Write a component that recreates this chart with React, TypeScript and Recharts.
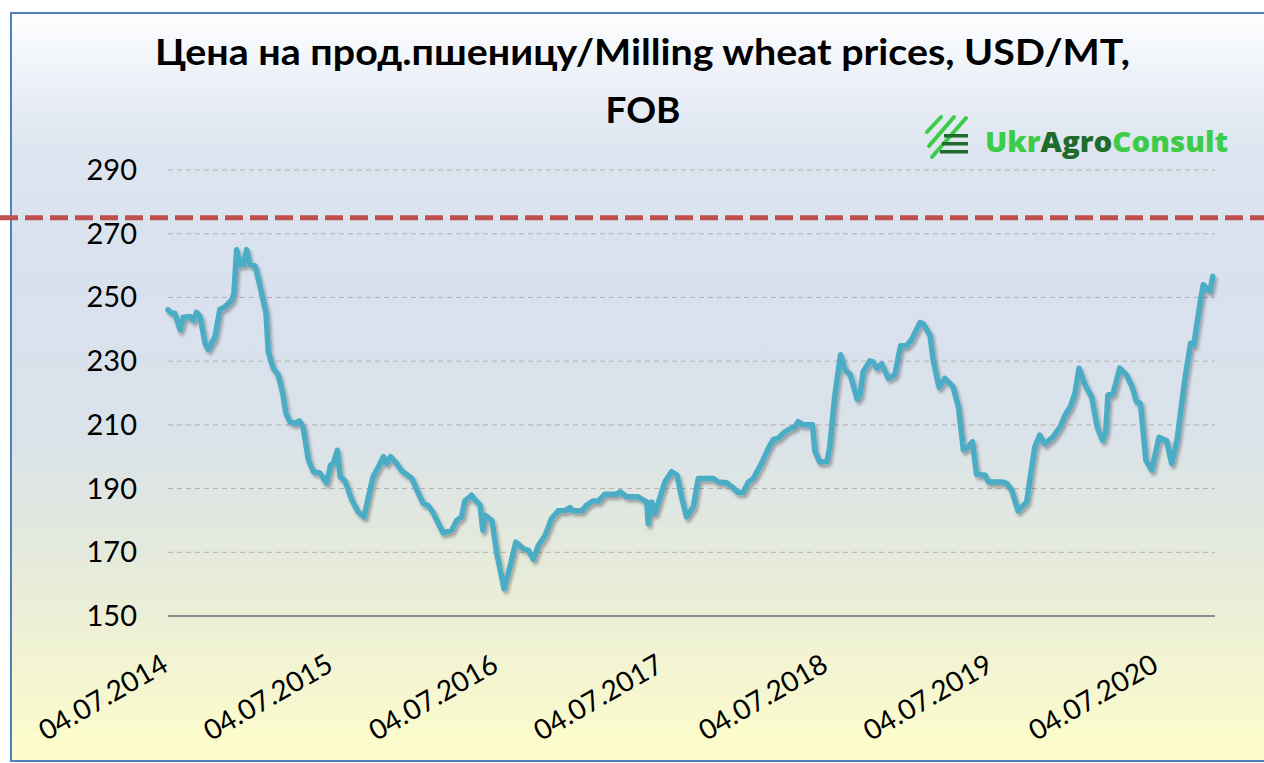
import { CartesianGrid, Line, LineChart, ReferenceLine, XAxis, YAxis } from "recharts";

const DATES = [
  "2014-07-04", "2014-07-12", "2014-07-19", "2014-07-31", "2014-08-07", "2014-08-22", "2014-08-29",
  "2014-09-05", "2014-09-13", "2014-09-24", "2014-10-01", "2014-10-16", "2014-10-27", "2014-11-07",
  "2014-11-22", "2014-11-27", "2014-12-03", "2014-12-10", "2014-12-18", "2014-12-25", "2015-01-01",
  "2015-01-13", "2015-01-24", "2015-02-06", "2015-02-11", "2015-02-22", "2015-03-05", "2015-03-15",
  "2015-03-22", "2015-03-31", "2015-04-11", "2015-04-21", "2015-04-29", "2015-05-11", "2015-05-22",
  "2015-06-05", "2015-06-20", "2015-06-29", "2015-07-05", "2015-07-14", "2015-07-20", "2015-07-31",
  "2015-08-15", "2015-08-29", "2015-09-11", "2015-09-20", "2015-10-01", "2015-10-13", "2015-10-24",
  "2015-10-31", "2015-11-09", "2015-11-22", "2015-12-03", "2015-12-26", "2016-01-06", "2016-01-20",
  "2016-01-31", "2016-02-11", "2016-02-22", "2016-03-04", "2016-03-23", "2016-04-03", "2016-04-14",
  "2016-04-21", "2016-05-06", "2016-05-14", "2016-05-25", "2016-05-31", "2016-06-05", "2016-06-20",
  "2016-07-01", "2016-07-17", "2016-07-30", "2016-08-12", "2016-08-29", "2016-09-09", "2016-09-20",
  "2016-10-01", "2016-10-16", "2016-10-30", "2016-11-14", "2016-11-29", "2016-12-10", "2016-12-17",
  "2017-01-05", "2017-01-16", "2017-01-30", "2017-02-11", "2017-02-25", "2017-03-23", "2017-03-31",
  "2017-04-14", "2017-05-10", "2017-05-21", "2017-05-29", "2017-06-01", "2017-06-09", "2017-06-16",
  "2017-06-23", "2017-07-08", "2017-07-23", "2017-08-04", "2017-08-14", "2017-08-25", "2017-09-09",
  "2017-09-20", "2017-10-23", "2017-11-03", "2017-11-22", "2017-12-06", "2017-12-17", "2017-12-28",
  "2018-01-09", "2018-01-20", "2018-02-07", "2018-02-22", "2018-03-05", "2018-03-16", "2018-03-31",
  "2018-04-15", "2018-04-22", "2018-04-29", "2018-05-10", "2018-05-31", "2018-06-05", "2018-06-16",
  "2018-07-02", "2018-07-08", "2018-07-19", "2018-08-01", "2018-08-11", "2018-08-22", "2018-09-07",
  "2018-09-13", "2018-09-20", "2018-10-05", "2018-10-12", "2018-10-20", "2018-10-31", "2018-11-15",
  "2018-11-29", "2018-12-12", "2018-12-25", "2019-01-05", "2019-01-24", "2019-01-31", "2019-02-15",
  "2019-02-22", "2019-03-07", "2019-03-20", "2019-04-07", "2019-04-19", "2019-04-30", "2019-05-11",
  "2019-05-20", "2019-05-29", "2019-06-17", "2019-06-24", "2019-07-24", "2019-08-04", "2019-08-15",
  "2019-08-29", "2019-09-17", "2019-09-24", "2019-10-05", "2019-10-16", "2019-10-27", "2019-11-15",
  "2019-11-30", "2019-12-11", "2019-12-22", "2020-01-02", "2020-01-11", "2020-01-20", "2020-01-28",
  "2020-02-08", "2020-02-20", "2020-03-03", "2020-03-10", "2020-03-15", "2020-03-26", "2020-04-10",
  "2020-04-25", "2020-05-08", "2020-05-17", "2020-05-26", "2020-06-07", "2020-06-20", "2020-07-06",
  "2020-07-23", "2020-08-03", "2020-08-15", "2020-09-01", "2020-09-14", "2020-09-21", "2020-10-06",
  "2020-10-12", "2020-10-27", "2020-11-02",
];

const PRICES = [
  246.1, 245.1, 245, 239.8, 243.8, 244, 242.7,
  245.3, 244, 235.6, 233.7, 237.7, 246.3, 247,
  249.2, 251.3, 265, 260.3, 260.3, 265, 260.3,
  259.9, 253.4, 245.1, 233, 227.8, 225.7, 219.9,
  213.6, 211, 210.5, 211.2, 209.4, 198.9, 195.3,
  194.9, 191.8, 197.4, 197.9, 202, 193.7, 192.4,
  186.4, 182.7, 181.1, 186.9, 193.7, 196.8, 200,
  197.9, 200, 197.9, 195.6, 193.2, 189.5, 185.3,
  184.7, 182.4, 179.2, 176.1, 176.9, 180, 181.1,
  186.1, 187.9, 186.4, 184.8, 176.9, 181.6, 180,
  169.6, 158.6, 165.4, 173.2, 171.1, 170.6, 167.8,
  172.2, 175.3, 180.6, 183, 183, 184, 183,
  183, 184.8, 186.1, 186.1, 188.2, 188.2, 189,
  187.4, 187.4, 186.4, 185.8, 179, 185.8, 182.2,
  185.3, 192.1, 195.3, 194.2, 187.4, 181.1, 184.3,
  193.2, 193.2, 192.1, 191.8, 190.3, 188.8, 188.8,
  192.1, 193.2, 197.9, 202.6, 205.4, 205.8, 207.8,
  209.1, 209.3, 211, 210, 210, 201.8, 198.3,
  198.5, 203.1, 218.8, 232, 227.2, 226, 218,
  219.4, 226.7, 230.1, 229.8, 227.8, 229.1, 224.6,
  225.7, 234.8, 234.8, 236.7, 242.1, 241.7, 238.2,
  230.4, 221.8, 224.6, 222, 215.7, 202.1, 203.1,
  204.7, 194.5, 194.2, 192.1, 192.1, 191.6, 189.5,
  183, 185.8, 192.6, 203.1, 206.8, 204, 206.3,
  209.4, 213.1, 215.5, 219.9, 227.8, 224.1, 221.5,
  218.8, 209.4, 205.2, 207.8, 219.4, 219.7, 227.8,
  225.7, 221.8, 217.3, 216.8, 198.9, 195.8, 206.1,
  205, 197.9, 205.2, 224.1, 235.6, 235.1, 249.2,
  254, 251.9, 256.6,
];

const X_TICKS = [
  "2014-07-04", "2015-07-04", "2016-07-04", "2017-07-04", "2018-07-04", "2019-07-04", "2020-07-04",
];
const X_START = "2014-07-04";
const X_END = "2020-11-07";
const Y_TICKS = [150, 170, 190, 210, 230, 250, 270, 290];
const LIMIT = 275;

const TITLE_1 = "Цена на прод.пшеницу/Milling wheat prices, USD/MT,";
const TITLE_2 = "FOB";

const W = 1264;
const H = 763;
const PLOT_BOTTOM = 616;
const FONT = "Lato, 'Open Sans', sans-serif";

const toTs = (s: string) => Date.parse(s + "T00:00:00Z");

function fmtDate(ts: number) {
  const d = new Date(ts);
  const dd = String(d.getUTCDate()).padStart(2, "0");
  const mm = String(d.getUTCMonth() + 1).padStart(2, "0");
  return `${dd}.${mm}.${d.getUTCFullYear()}`;
}

const data = DATES.map((d, i) => ({ t: toTs(d), price: PRICES[i] }));

function XTick(props: any) {
  const { x, payload } = props;
  const tx = x + 2;
  const ty = PLOT_BOTTOM + 54;
  return (
    <text
      x={tx}
      y={ty}
      transform={`rotate(-30, ${tx}, ${ty})`}
      textAnchor="end"
      fontFamily={FONT}
      fontSize={28}
      fill="#000"
    >
      {fmtDate(payload.value)}
    </text>
  );
}

function YTick(props: any) {
  const { y, payload } = props;
  return (
    <text x={137} y={y} dy={10} textAnchor="end" fontFamily={FONT} fontSize={29} fill="#000">
      {payload.value}
    </text>
  );
}

function LimitLine(props: any) {
  return (
    <line
      x1={0}
      x2={W}
      y1={props.y1}
      y2={props.y1}
      stroke="#c0504d"
      strokeWidth={5}
      strokeDasharray="18 7"
    />
  );
}

export default function App() {
  return (
    <div
      style={{
        position: "absolute",
        left: 0,
        top: 0,
        width: W,
        height: H,
        overflow: "hidden",
        background: "#fff",
      }}
    >
      <div
        style={{
          position: "absolute",
          left: 10,
          top: 12,
          width: W + 40,
          height: 746,
          border: "2px solid #4f81bd",
          background:
            "linear-gradient(to bottom, #fdfeff 0%, #eef2f8 8%, #dde5f0 18%, #d8e1ee 35%, #dae2ea 56%, #e5eadb 73%, #f1f3d3 86%, #fbfbcc 97%, #fcfccb 100%)",
        }}
      />
      <div style={{ position: "absolute", left: 0, top: 0 }}>
        <LineChart
          width={W}
          height={H}
          data={data}
          margin={{ top: 170, right: 49, bottom: 0, left: 0 }}
        >
          <defs>
            <filter id="lineShadow" x="-5%" y="-5%" width="110%" height="120%">
              <feDropShadow dx="2" dy="3" stdDeviation="1.6" floodColor="#000" floodOpacity="0.3" />
            </filter>
          </defs>
          <CartesianGrid vertical={false} stroke="#b2b2b2" strokeDasharray="5 4" strokeWidth={1} />
          <XAxis
            dataKey="t"
            type="number"
            domain={[toTs(X_START), toTs(X_END)]}
            ticks={X_TICKS.map(toTs)}
            height={147}
            axisLine={{ stroke: "#8c8c8c", strokeWidth: 2 }}
            tickLine={false}
            tick={<XTick />}
            interval={0}
          />
          <YAxis
            domain={[150, 290]}
            ticks={Y_TICKS}
            width={168}
            axisLine={false}
            tickLine={false}
            tick={<YTick />}
            interval={0}
          />
          <Line
            type="linear"
            dataKey="price"
            stroke="#4bacc6"
            strokeWidth={5.5}
            strokeLinejoin="round"
            strokeLinecap="round"
            dot={false}
            activeDot={false}
            filter="url(#lineShadow)"
            isAnimationActive={false}
          />
          <ReferenceLine y={LIMIT} shape={<LimitLine />} ifOverflow="visible" />
        </LineChart>
      </div>
      <svg
        width={W}
        height={H}
        style={{ position: "absolute", left: 0, top: 0, pointerEvents: "none" }}
      >
        <text
          x={155}
          y={65}
          fontFamily={FONT}
          fontWeight={700}
          fontSize={37}
          fill="#000"
          textLength={975}
          lengthAdjust="spacingAndGlyphs"
        >
          {TITLE_1}
        </text>
        <text
          x={643}
          y={123}
          fontFamily={FONT}
          fontWeight={700}
          fontSize={37}
          fill="#000"
          textAnchor="middle"
        >
          {TITLE_2}
        </text>
        <g>
          <line x1={927} y1={132} x2={941} y2={117} stroke="#3dcc4a" strokeWidth={4} strokeLinecap="round" />
          <line x1={929} y1={146} x2={954} y2={117} stroke="#3dcc4a" strokeWidth={4} strokeLinecap="round" />
          <line x1={932} y1={157} x2={966} y2={118} stroke="#3dcc4a" strokeWidth={4} strokeLinecap="round" />
          <rect x={944} y={134} width={24} height={3.5} fill="#1e6b2c" />
          <rect x={942} y={142} width={26} height={3.5} fill="#1e6b2c" />
          <rect x={940} y={150} width={28} height={3.5} fill="#1e6b2c" />
        </g>
        <text
          x={985}
          y={152}
          fontFamily="'Open Sans', Roboto, sans-serif"
          fontWeight={800}
          fontSize={28}
          textLength={243}
          lengthAdjust="spacingAndGlyphs"
        >
          <tspan fill="#3dcc4a">Ukr</tspan>
          <tspan fill="#1e6b2c">Agro</tspan>
          <tspan fill="#3dcc4a">Consult</tspan>
        </text>
      </svg>
    </div>
  );
}
